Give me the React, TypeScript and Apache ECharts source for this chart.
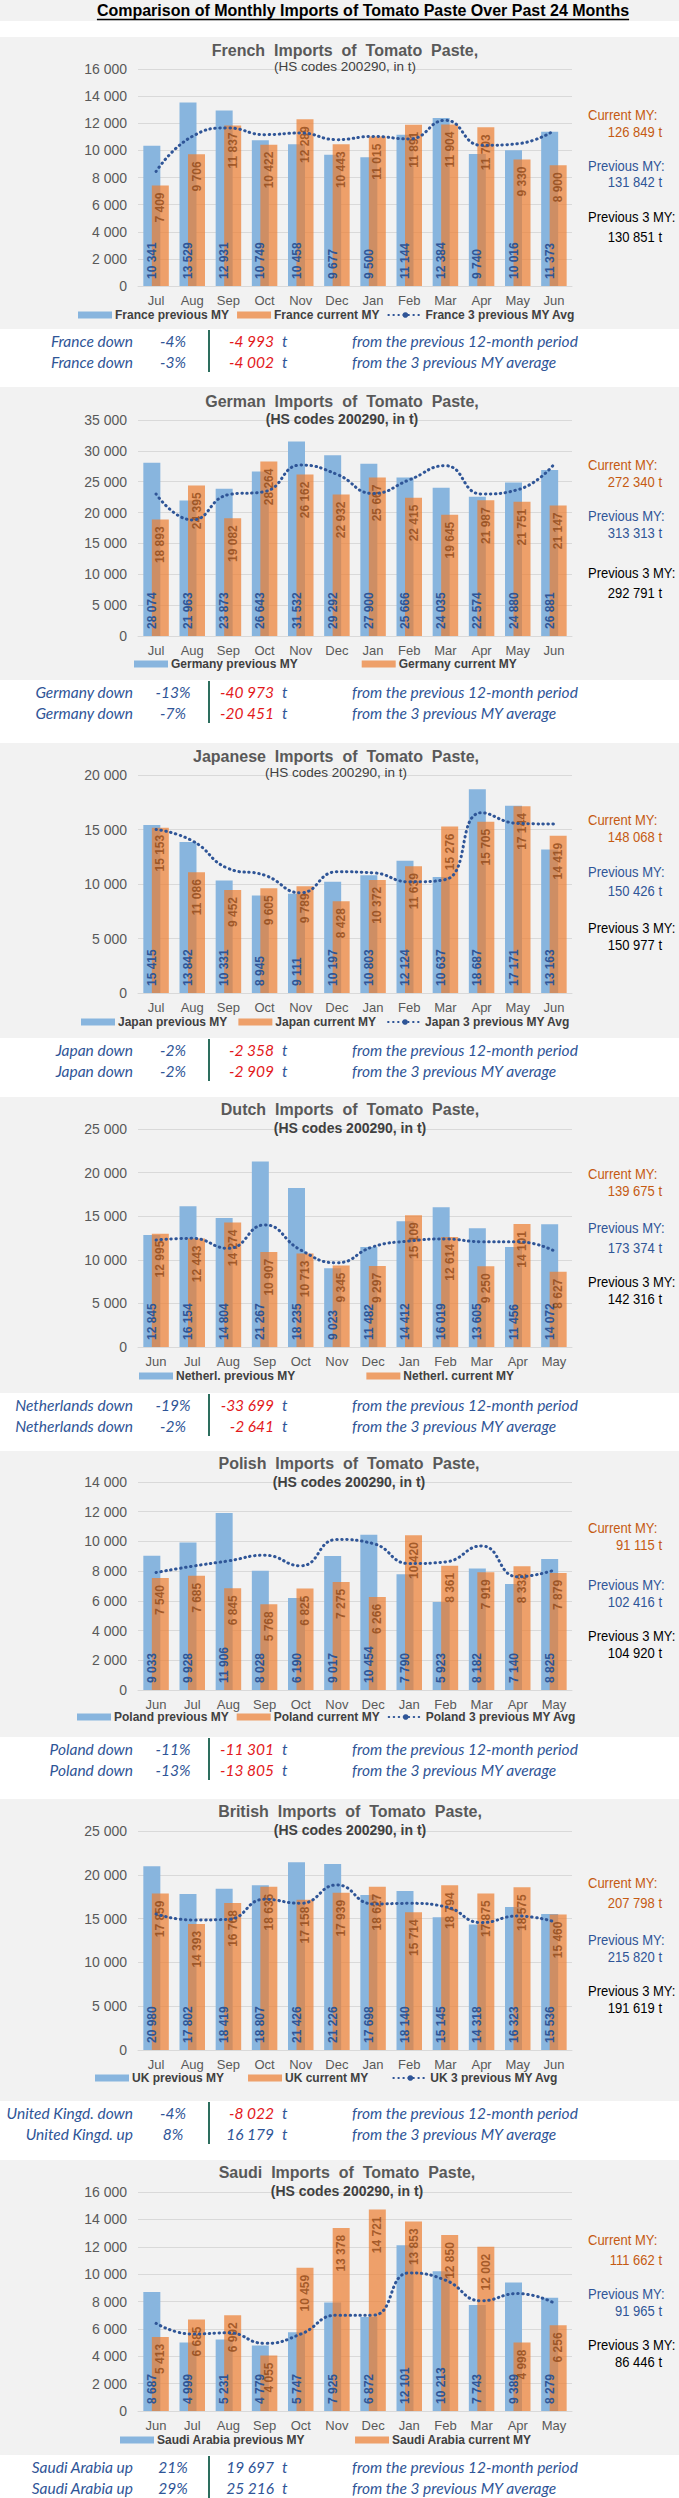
import React, { useEffect, useRef } from "react";
import * as echarts from "echarts";

// ---------- DATA ----------
const MONTHS_JUL = ["Jul", "Aug", "Sep", "Oct", "Nov", "Dec", "Jan", "Feb", "Mar", "Apr", "May", "Jun"];
const MONTHS_JUN = ["Jun", "Jul", "Aug", "Sep", "Oct", "Nov", "Dec", "Jan", "Feb", "Mar", "Apr", "May"];

const francePrev = [10341, 13529, 12931, 10749, 10458, 9677, 9500, 11144, 12384, 9740, 10016, 11373];
const franceCurr = [7409, 9706, 11837, 10422, 12289, 10443, 11015, 11891, 11904, 11703, 9330, 8900];
const franceAvg = [8450, 11030, 11650, 11160, 11280, 10790, 11030, 10840, 12220, 10370, 10490, 11450];

const germanyPrev = [28074, 21963, 23873, 26643, 31532, 29292, 27900, 25666, 24035, 22574, 24880, 26881];
const germanyCurr = [18893, 24395, 19082, 28264, 26162, 22932, 25667, 22415, 19645, 21987, 21751, 21147];
const germanyAvg = [23000, 18800, 22900, 23400, 27700, 26200, 23100, 25300, 27600, 23000, 23700, 27800];

const japanPrev = [15415, 13842, 10331, 8945, 9111, 10197, 10803, 12124, 10637, 18687, 17171, 13163];
const japanCurr = [15153, 11086, 9452, 9605, 9789, 8428, 10372, 11639, 15276, 15705, 17144, 14419];
const japanAvg = [15010, 13970, 11420, 10810, 9190, 11120, 11030, 10200, 10410, 16540, 15560, 15500];

const netherPrev = [12845, 16154, 14804, 21267, 18235, 9023, 11482, 14412, 16019, 13605, 11456, 14072];
const netherCurr = [12995, 12443, 14274, 10907, 10713, 9345, 9297, 15109, 12614, 9250, 14101, 8627];
const netherAvg = [12270, 12460, 11310, 14000, 11120, 9660, 11500, 12150, 12380, 12080, 12080, 11040];

const polandPrev = [9033, 9928, 11906, 8028, 6190, 9017, 10454, 7790, 5923, 8182, 7140, 8825];
const polandCurr = [7540, 7685, 6845, 5768, 6825, 7275, 6266, 10420, 8361, 7919, 8332, 7879];
const polandAvg = [7910, 8330, 8690, 9070, 8360, 10130, 9860, 8510, 8620, 9700, 7620, 8060];

const ukPrev = [20980, 17802, 18419, 18807, 21426, 21226, 17698, 18140, 15145, 14318, 16323, 15536];
const ukCurr = [17859, 14393, 16768, 18636, 17158, 17939, 18627, 15714, 18794, 17875, 18575, 15460];
const ukAvg = [15520, 14840, 14920, 17200, 16740, 18840, 16670, 16740, 16360, 14540, 15300, 14650];

const saudiPrev = [8687, 4999, 5231, 4779, 5747, 7925, 6872, 12101, 10213, 7743, 9389, 8279];
const saudiCurr = [5413, 6685, 6992, 4055, 10459, 13378, 14721, 13853, 12850, 12002, 4998, 6256];
const saudiAvg = [6400, 5620, 5710, 4940, 5620, 7000, 7000, 10090, 9560, 8050, 8580, 7900];

const PAGE_TITLE = "Comparison of Monthly Imports of Tomato Paste Over Past 24 Months";
const SUBTITLE = "(HS codes 200290, in t)";
const TITLES = [
  "French  Imports  of  Tomato  Paste,",
  "German  Imports  of  Tomato  Paste,",
  "Japanese  Imports  of  Tomato  Paste,",
  "Dutch  Imports  of  Tomato  Paste,",
  "Polish  Imports  of  Tomato  Paste,",
  "British  Imports  of  Tomato  Paste,",
  "Saudi  Imports  of  Tomato  Paste,",
];
const SERIES_PREFIX = ["France", "Germany", "Japan", "Netherl.", "Poland", "UK", "Saudi Arabia"];
const SHOW_AVG_IN_LEGEND = [true, false, true, false, true, true, false];
const AXIS_MAX = [16000, 35000, 20000, 25000, 14000, 25000, 16000];
const AXIS_STEP = [2000, 5000, 5000, 5000, 2000, 5000, 2000];

const TOTAL_CURRENT = ["126 849 t", "272 340 t", "148 068 t", "139 675 t", "91 115 t", "207 798 t", "111 662 t"];
const TOTAL_PREVIOUS = ["131 842 t", "313 313 t", "150 426 t", "173 374 t", "102 416 t", "215 820 t", "91 965 t"];
const TOTAL_PREV3 = ["130 851 t", "292 791 t", "150 977 t", "142 316 t", "104 920 t", "191 619 t", "86 446 t"];

const SUMMARY_NAME_1 = ["France down", "Germany down", "Japan down", "Netherlands down", "Poland down", "United Kingd. down", "Saudi Arabia up"];
const SUMMARY_NAME_2 = ["France down", "Germany down", "Japan down", "Netherlands down", "Poland down", "United Kingd. up", "Saudi Arabia up"];
const SUMMARY_PCT_1 = ["-4%", "-13%", "-2%", "-19%", "-11%", "-4%", "21%"];
const SUMMARY_PCT_2 = ["-3%", "-7%", "-2%", "-2%", "-13%", "8%", "29%"];
const SUMMARY_VAL_1 = [-4993, -40973, -2358, -33699, -11301, -8022, 19697];
const SUMMARY_VAL_2 = [-4002, -20451, -2909, -2641, -13805, 16179, 25216];
const SUMMARY_TEXT_1 = "from the previous 12-month period";
const SUMMARY_TEXT_2 = "from the 3 previous MY average";

const PANELS = [
  { months: MONTHS_JUL, prev: francePrev, curr: franceCurr, avg: franceAvg },
  { months: MONTHS_JUL, prev: germanyPrev, curr: germanyCurr, avg: germanyAvg },
  { months: MONTHS_JUL, prev: japanPrev, curr: japanCurr, avg: japanAvg },
  { months: MONTHS_JUN, prev: netherPrev, curr: netherCurr, avg: netherAvg },
  { months: MONTHS_JUN, prev: polandPrev, curr: polandCurr, avg: polandAvg },
  { months: MONTHS_JUL, prev: ukPrev, curr: ukCurr, avg: ukAvg },
  { months: MONTHS_JUN, prev: saudiPrev, curr: saudiCurr, avg: saudiAvg },
];

// ---------- LAYOUT ----------
const W = 679;
const H = 2498;
const PANEL_TOP = [37, 387, 743, 1097, 1451, 1799, 2160];
const PANEL_H = [292, 293, 295, 296, 286, 302, 295];
const PLOT_TOP_REL = [32, 33, 32, 32, 31, 32, 32];
const PLOT_BOT_REL = [249, 249, 250, 250, 239, 251, 251];
const TITLE_CX = [345, 342, 336, 350, 349, 350, 347];
const TITLE_Y = [13, 14, 13, 12, 12, 12, 12];
const SUB_Y = [29, 32, 29, 31, 31, 31, 31];
const SUB_BOLD = [false, true, false, true, true, true, true];
const LEGEND_LEFT = [78, 134, 81, 139, 77, 95, 120];
const LEGEND_GAP = [8, 64, 11, 71, 8, 24, 50];
const LEGEND_Y = [279, 278, 280, 280, 267, 280, 281];
const RIGHT_Y = [
  [78, 95, 129, 145, 180, 200],
  [78, 95, 129, 146, 186, 206],
  [77, 94, 129, 148, 185, 202],
  [77, 94, 131, 151, 185, 202],
  [77, 94, 134, 151, 185, 202],
  [84, 104, 141, 158, 192, 209],
  [80, 100, 134, 151, 185, 202],
];
const GRID_LEFT = 138;
const GRID_W = 434;
const SUMMARY_TARGET_W = 226;

const SANS = "'Liberation Sans', Arial, sans-serif";
const ITAL = "Lato, 'Open Sans', sans-serif";
const BLUE = "#88B5DE";
const ORANGE = "#ED7D31";
const DARK_BLUE = "#2F5597";
const BROWN = "#843C0C";
const AXIS_GRAY = "#595959";
const PANEL_BG = "#F2F2F2";

const fmt = (v: number) => {
  const s = Math.abs(Math.round(v)).toString().replace(/\B(?=(\d{3})+(?!\d))/g, " ");
  return (v < 0 ? "-" : "") + s;
};

function measure(text: string, font: string, fallback: number) {
  try {
    const c = document.createElement("canvas").getContext("2d");
    if (!c) return fallback;
    c.font = font;
    const w = c.measureText(text).width;
    return w > 0 ? w : fallback;
  } catch (e) {
    return fallback;
  }
}

function buildOption() {
  const grid: any[] = [];
  const xAxis: any[] = [];
  const yAxis: any[] = [];
  const series: any[] = [];
  const legend: any[] = [];
  const graphic: any[] = [];

  // page title band
  graphic.push({ type: "rect", z: -10, shape: { x: 0, y: 0, width: W, height: 21 }, style: { fill: PANEL_BG } });
  const titleFont = `bold 16px ${SANS}`;
  const tw = measure(PAGE_TITLE, titleFont, 528);
  const tcx = 363;
  graphic.push({
    type: "text", z: 10, x: tcx, y: 10,
    style: { text: PAGE_TITLE, font: titleFont, fill: "#000", textAlign: "center", textVerticalAlign: "middle" },
  });
  graphic.push({
    type: "line", z: 10,
    shape: { x1: tcx - tw / 2, y1: 19.5, x2: tcx + tw / 2, y2: 19.5 },
    style: { stroke: "#000", lineWidth: 1.5 },
  });

  // summary font size fitted to the reference width
  const baseW = measure(SUMMARY_TEXT_1, `italic 13px ${ITAL}`, 200);
  const sSize = Math.max(12, Math.min(16, (13 * SUMMARY_TARGET_W) / baseW));
  const sf = `italic ${sSize.toFixed(2)}px ${ITAL}`;

  PANELS.forEach((p, i) => {
    const top = PANEL_TOP[i];
    const gTop = top + PLOT_TOP_REL[i];
    const gBot = top + PLOT_BOT_REL[i];
    const names = [
      `${SERIES_PREFIX[i]} previous MY`,
      `${SERIES_PREFIX[i]} current MY`,
      `${SERIES_PREFIX[i]} 3 previous MY Avg`,
    ];

    graphic.push({ type: "rect", z: -10, shape: { x: 0, y: top, width: W, height: PANEL_H[i] }, style: { fill: PANEL_BG } });

    // titles
    graphic.push({
      type: "text", z: 10, x: TITLE_CX[i], y: top + TITLE_Y[i],
      style: { text: TITLES[i], font: `bold 16px ${SANS}`, fill: AXIS_GRAY, textAlign: "center", textVerticalAlign: "middle" },
    });
    graphic.push({
      type: "text", z: 10, x: TITLE_CX[i], y: top + SUB_Y[i],
      style: {
        text: SUBTITLE, font: SUB_BOLD[i] ? `bold 14px ${SANS}` : `13.5px ${SANS}`, fill: "#404040",
        textAlign: "center", textVerticalAlign: "middle",
      },
    });

    // right-side totals
    const ry = RIGHT_Y[i];
    const rightItems = [
      ["Current MY:", TOTAL_CURRENT[i], "#C55A11"],
      ["Previous MY:", TOTAL_PREVIOUS[i], DARK_BLUE],
      ["Previous 3 MY:", TOTAL_PREV3[i], "#000000"],
    ];
    rightItems.forEach((it, k) => {
      graphic.push({
        type: "text", z: 10, x: 588, y: top + ry[k * 2], scaleX: 0.93,
        style: { text: it[0], font: `14px ${SANS}`, fill: it[2], textAlign: "left", textVerticalAlign: "middle" },
      });
      graphic.push({
        type: "text", z: 10, x: 662, y: top + ry[k * 2 + 1], scaleX: 0.93,
        style: { text: it[1], font: `14px ${SANS}`, fill: it[2], textAlign: "right", textVerticalAlign: "middle" },
      });
    });

    // summary rows
    const bottom = top + PANEL_H[i];
    const rows = [
      [SUMMARY_NAME_1[i], SUMMARY_PCT_1[i], SUMMARY_VAL_1[i], SUMMARY_TEXT_1],
      [SUMMARY_NAME_2[i], SUMMARY_PCT_2[i], SUMMARY_VAL_2[i], SUMMARY_TEXT_2],
    ];
    rows.forEach((r, k) => {
      const y = bottom + 12 + k * 21;
      const val = r[2] as number;
      graphic.push({ type: "text", z: 10, x: 133, y, style: { text: r[0], font: sf, fill: DARK_BLUE, textAlign: "right", textVerticalAlign: "middle" } });
      graphic.push({ type: "text", z: 10, x: 173, y, style: { text: r[1], font: sf, fill: DARK_BLUE, textAlign: "center", textVerticalAlign: "middle" } });
      graphic.push({ type: "text", z: 10, x: 274, y, style: { text: fmt(val), font: sf, fill: val < 0 ? "#E3191C" : DARK_BLUE, textAlign: "right", textVerticalAlign: "middle" } });
      graphic.push({ type: "text", z: 10, x: 282, y, style: { text: "t", font: sf, fill: DARK_BLUE, textAlign: "left", textVerticalAlign: "middle" } });
      graphic.push({ type: "text", z: 10, x: 352, y, style: { text: r[3], font: sf, fill: DARK_BLUE, textAlign: "left", textVerticalAlign: "middle" } });
    });
    graphic.push({
      type: "line", z: 10,
      shape: { x1: 209, y1: bottom + 1, x2: 209, y2: bottom + 43 },
      style: { stroke: "#2D6E5E", lineWidth: 2 },
    });

    grid.push({ left: GRID_LEFT, width: GRID_W, top: gTop, height: gBot - gTop });
    xAxis.push({
      type: "category", gridIndex: i, data: p.months,
      axisLine: { lineStyle: { color: "#D9D9D9" } },
      axisTick: { show: false },
      axisLabel: { color: AXIS_GRAY, fontSize: 13, fontFamily: SANS, margin: 8 },
    });
    yAxis.push({
      type: "value", gridIndex: i, min: 0, max: AXIS_MAX[i], interval: AXIS_STEP[i],
      axisLine: { show: false }, axisTick: { show: false },
      splitLine: { lineStyle: { color: "#D9D9D9" } },
      axisLabel: { color: AXIS_GRAY, fontSize: 14, fontFamily: SANS, margin: 11, formatter: (v: number) => fmt(v) },
    });

    const labelBase = {
      show: true, rotate: 90, verticalAlign: "middle", distance: 7,
      fontSize: 12, fontWeight: "bold", fontFamily: SANS,
      formatter: (q: any) => fmt(q.value),
    };
    series.push({
      type: "bar", name: names[0], xAxisIndex: i, yAxisIndex: i, data: p.prev,
      barWidth: 17, barGap: "-50%",
      itemStyle: { color: BLUE },
      label: { ...labelBase, position: "insideBottom", align: "left", color: DARK_BLUE },
    });
    series.push({
      type: "bar", name: names[1], xAxisIndex: i, yAxisIndex: i, data: p.curr,
      barWidth: 17, barGap: "-50%",
      itemStyle: { color: ORANGE, opacity: 0.7 },
      label: { ...labelBase, position: "insideTop", align: "right", color: BROWN },
    });
    series.push({
      type: "line", name: names[2], xAxisIndex: i, yAxisIndex: i, data: p.avg,
      smooth: 0.5, symbol: "none", z: 5,
      lineStyle: { color: DARK_BLUE, width: 3, type: [0.5, 4.5], cap: "round" },
      itemStyle: { color: DARK_BLUE },
    });

    const ldata: any[] = [{ name: names[0], icon: "rect" }, { name: names[1], icon: "rect" }];
    if (SHOW_AVG_IN_LEGEND[i]) ldata.push({ name: names[2] });
    legend.push({
      data: ldata, left: LEGEND_LEFT[i], top: top + LEGEND_Y[i] - 7, padding: 0,
      itemWidth: 34, itemHeight: 7, itemGap: LEGEND_GAP[i], selectedMode: false,
      textStyle: { color: "#404040", fontSize: 12, fontWeight: "bold", fontFamily: SANS, padding: [0, 0, 0, -2] },
    });
  });

  return {
    animation: false,
    backgroundColor: "#FFFFFF",
    grid, xAxis, yAxis, series, legend, graphic,
  };
}

export default function App() {
  const ref = useRef<HTMLDivElement>(null);
  useEffect(() => {
    document.body.style.margin = "0";
    if (!ref.current) return;
    const chart = echarts.init(ref.current, undefined, { renderer: "svg" });
    chart.setOption(buildOption() as any);
    return () => chart.dispose();
  }, []);
  return <div ref={ref} style={{ width: W, height: H }} />;
}
